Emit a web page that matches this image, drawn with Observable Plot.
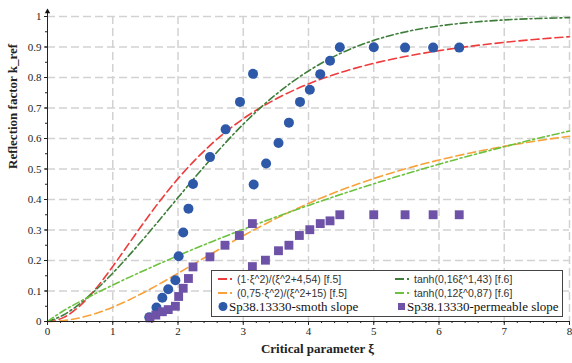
<!DOCTYPE html>
<html><head><meta charset="utf-8">
<script src="https://cdn.jsdelivr.net/npm/d3@7"></script>
<script src="https://cdn.jsdelivr.net/npm/@observablehq/plot@0.6"></script>
<style>
body{margin:0;background:#fff;}
#wrap{position:relative;width:572px;height:363px;overflow:hidden;}
#legend{position:absolute;left:211px;top:270px;width:352px;height:47px;box-sizing:border-box;border:1px solid #444;background:#fff;}
</style></head><body><div id="wrap"></div>
<script>
const xi = [0,0.25,0.5,0.75,1,1.25,1.5,1.75,2,2.5,3,3.5,4,4.5,5,5.5,6,6.5,7,7.5,8];
const redY = [0,0.0136,0.0522,0.1102,0.1805,0.2560,0.3314,0.4028,0.4684,0.5792,0.6647,0.7296,0.7790,0.8169,0.8463,0.8695,0.8880,0.9030,0.9152,0.9253,0.9338];
const orangeY = [0,0.0031,0.0123,0.0271,0.0469,0.0708,0.0978,0.1272,0.1579,0.2206,0.2813,0.3372,0.3871,0.4309,0.4688,0.5014,0.5294,0.5535,0.5742,0.5921,0.6076];
const darkGreenY = [0,0.0220,0.0593,0.1056,0.1586,0.2167,0.2782,0.3418,0.4062,0.5320,0.6470,0.7443,0.8214,0.8800,0.9217,0.9503,0.9690,0.9810,0.9887,0.9934,0.9962];
const lightGreenY = [0,0.0359,0.0656,0.0932,0.1194,0.1447,0.1691,0.1928,0.2159,0.2602,0.3023,0.3425,0.3806,0.4170,0.4515,0.4844,0.5156,0.5452,0.5731,0.5997,0.6246];

const smoothX = [1.56,1.67,1.76,1.85,1.96,2.01,2.08,2.16,2.23,2.49,2.73,2.95,3.15,3.16,3.35,3.54,3.70,3.87,4.02,4.18,4.33,4.48,5.00,5.48,5.91,6.31];
const smoothY = [0.014,0.046,0.078,0.106,0.135,0.214,0.292,0.370,0.451,0.539,0.630,0.720,0.812,0.449,0.518,0.585,0.652,0.720,0.760,0.811,0.855,0.899,0.899,0.898,0.898,0.898];
const permX = [1.57,1.66,1.76,1.85,1.96,2.01,2.08,2.16,2.23,2.49,2.72,2.94,3.14,3.14,3.34,3.54,3.70,3.86,4.02,4.18,4.33,4.48,5.00,5.48,5.91,6.31];
const permY = [0.012,0.021,0.032,0.039,0.050,0.082,0.109,0.141,0.179,0.212,0.250,0.282,0.321,0.180,0.201,0.232,0.250,0.282,0.301,0.321,0.330,0.350,0.350,0.350,0.350,0.350];

const xTicks = [0,1,2,3,4,5,6,7,8];
const yTicks = [0,0.1,0.2,0.3,0.4,0.5,0.6,0.7,0.8,0.9,1];
const yTickLabels = ["0","0.1","0.2","0.3","0.4","0.5","0.6","0.7","0.8","0.9","1"];
const xMinor = d3.range(0, 8.001, 0.2);
const yMinor = d3.range(0, 1.001, 0.05);
const xLabel = "Critical parameter ξ";
const yLabel = "Reflection factor k_ref";
const curveLabels = ["(1·ξ^2)/(ξ^2+4,54) [f.5]","(0,75·ξ^2)/(ξ^2+15) [f.5]","tanh(0,16ξ^1,43) [f.6]","tanh(0,12ξ^0,87) [f.6]"];
const pointLabels = ["Sp38.13330-smoth slope","Sp38.13330-permeable slope"];

const C = {red:"#ee3b3b", orange:"#f7a23a", dgreen:"#3e7e3a", lgreen:"#6cc23e", blue:"#2e58a8", purple:"#6e52a8"};
const arrowTop = 1.016;

const curves = [
  {ys: redY, color: C.red, dash: "8,4"},
  {ys: orangeY, color: C.orange, dash: "8,4"},
  {ys: darkGreenY, color: C.dgreen, dash: "7,3,2,3"},
  {ys: lightGreenY, color: C.lgreen, dash: "7,3,2,3"}
];

const gridStyle = {stroke:"#d2d2d2", strokeOpacity:1, strokeWidth:1.5, strokeDasharray:"8,4"};

const chart = Plot.plot({
  width:572, height:363, marginLeft:47, marginRight:3, marginTop:16, marginBottom:42,
  x:{domain:[0,8]}, y:{domain:[0,1]},
  style:{fontFamily:"'Liberation Serif', serif", fontSize:"11px", background:"white", overflow:"visible", color:"#222"},
  marks:[
    Plot.gridX(xTicks.slice(1), gridStyle),
    Plot.gridY(yTicks.slice(1), gridStyle),
    ...curves.map(c => Plot.line(xi, {x: d => d, y: (d,i) => c.ys[i], stroke: c.color, strokeWidth: 1.6, strokeDasharray: c.dash, curve: "monotone-x"})),
    Plot.dot(smoothX, {x: d => d, y: (d,i) => smoothY[i], r: 5, fill: C.blue, symbol: "circle"}),
    Plot.dot(permX, {x: d => d, y: (d,i) => permY[i], r: 5, fill: C.purple, symbol: "square"}),
    Plot.axisX(xMinor, {tickSize: 2, tickFormat: () => "", label: null}),
    Plot.axisX(xTicks, {tickSize: 4, tickPadding: 2, label: null, fontSize: 11}),
    Plot.axisY(yMinor, {tickSize: 2, tickFormat: () => "", label: null}),
    Plot.axisY(yTicks, {tickSize: 3, tickPadding: 3, label: null, fontSize: 11, tickFormat: (d, i) => yTickLabels[yTicks.indexOf(d)]}),
    Plot.ruleY([0], {stroke: "#222"}),
    Plot.ruleX([0], {y1: 0, y2: arrowTop, stroke: "#222"}),
    Plot.dot([0], {x: 0, y: arrowTop, symbol: "triangle", fill: "#111", r: 2}),
    Plot.text([xLabel], {frameAnchor: "bottom", dy: 31, dx: 9, fontWeight: "bold", fontSize: 13}),
    Plot.text([yLabel], {frameAnchor: "left", dx: -35, rotate: -90, fontWeight: "bold", fontSize: 13})
  ]
});
const wrap = document.getElementById("wrap");
wrap.appendChild(chart);

// legend overlay
const leg = d3.select(wrap).append("div").attr("id","legend");
const svg = leg.append("svg").attr("width",350).attr("height",45).style("display","block");
const rows = [8, 22, 35.5];
const cols = [6, 183];
const textX = [25, 202];
const legendCurves = [[0,0,0],[1,0,1],[2,1,0],[3,1,1]]; // curve index, col, row
legendCurves.forEach(([ci, col, row]) => {
  const c = curves[ci];
  const y = rows[row], x0 = cols[col];
  svg.append("line").attr("x1",x0).attr("x2",x0+9).attr("y1",y).attr("y2",y).attr("stroke",c.color).attr("stroke-width",2);
  svg.append("line").attr("x1",x0+12).attr("x2",x0+14).attr("y1",y).attr("y2",y).attr("stroke",c.color).attr("stroke-width",2);
  svg.append("text").attr("x",textX[col]).attr("y",y).attr("dy","0.35em").attr("font-family","'Liberation Sans', sans-serif").attr("font-size",10.5).attr("fill","#333").text(curveLabels[ci]);
});
svg.append("circle").attr("cx",11).attr("cy",rows[2]).attr("r",4.5).attr("fill",C.blue);
svg.append("text").attr("x",17).attr("y",rows[2]).attr("dy","0.35em").attr("font-family","'Liberation Serif', serif").attr("font-size",13).attr("fill","#111").text(pointLabels[0]);
svg.append("rect").attr("x",186).attr("y",rows[2]-3.5).attr("width",7).attr("height",7).attr("fill",C.purple);
svg.append("text").attr("x",195).attr("y",rows[2]).attr("dy","0.35em").attr("font-family","'Liberation Serif', serif").attr("font-size",13).attr("fill","#111").text(pointLabels[1]);
</script></body></html>
